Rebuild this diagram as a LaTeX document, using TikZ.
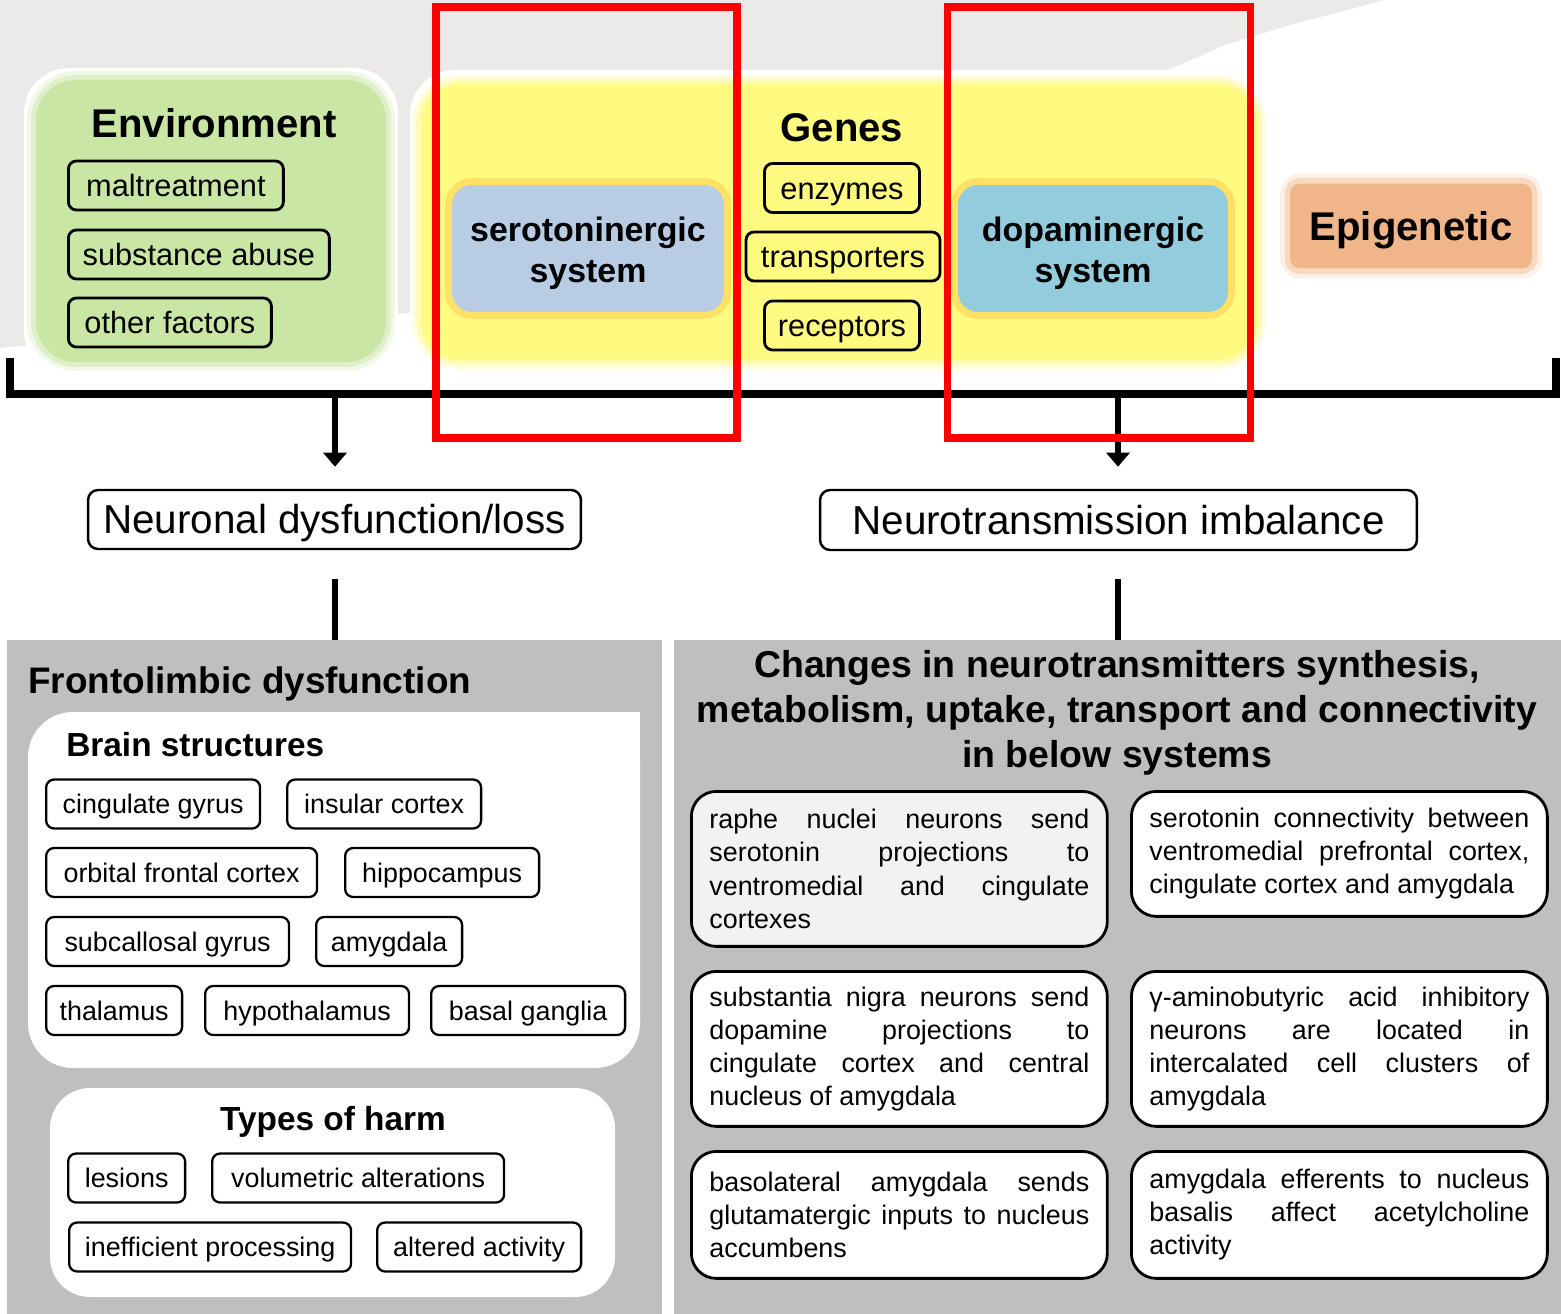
\documentclass[tikz,border=0pt]{standalone}
\usepackage{fontspec}
\setmainfont{Liberation Sans}
\usetikzlibrary{arrows.meta,positioning}

\definecolor{bggrey}{RGB}{235,234,232}
\definecolor{envgreen}{RGB}{201,230,165}
\definecolor{geneyellow}{RGB}{255,250,128}
\definecolor{serblue}{RGB}{184,204,228}
\definecolor{dopblue}{RGB}{147,205,221}
\definecolor{halo}{RGB}{255,205,80}
\definecolor{epiorange}{RGB}{240,182,137}
\definecolor{panelgrey}{RGB}{191,191,191}
\definecolor{paleboxgrey}{RGB}{242,242,242}
\definecolor{markred}{RGB}{255,0,0}

\newcommand{\fsz}[2]{\fontsize{#1}{#2}\selectfont}
\tolerance=10000
\hbadness=10000

\tikzset{
	title/.style={font=\bfseries\fsz{22.8}{27}, text height=18.5pt, text depth=2.1pt},
	sub/.style={font=\bfseries\fsz{19}{23}, text height=15.6pt, text depth=2pt},
	tag/.style={draw, line width=1.6pt, rounded corners=0.16cm, minimum height=0.98cm, inner sep=0pt, text height=15.8pt, text depth=3.2pt, font=\fsz{17.5}{21}},
	brain/.style={draw, line width=1.3pt, rounded corners=0.16cm, fill=white, minimum height=0.98cm, inner sep=0pt, text height=13.5pt, text depth=2.5pt, font=\fsz{15.3}{18}, anchor=west},
	sysbox/.style={rounded corners=0.4cm, minimum width=5.44cm, minimum height=2.54cm, preaction={draw=halo, line width=0.28cm, draw opacity=0.55}},
	systext/.style={align=center, font=\bfseries\fsz{19.3}{23.3}},
	stage/.style={draw, line width=1.4pt, rounded corners=0.2cm, fill=white, text height=19pt, text depth=2.6pt, font=\fsz{23}{27}},
	panel/.style={fill=panelgrey, inner sep=0pt, anchor=north west},
	note/.style={draw, line width=1.6pt, rounded corners=0.5cm, fill=white, text width=7.6cm, inner xsep=0.36cm, align=justify, anchor=north west, font=\fsz{15.3}{18.8}},
	arr/.style={line width=3.6pt, -{Triangle[width=13pt,length=8pt]}},
	link/.style={line width=3.8pt},
	bracket/.style={line width=5pt},
	redframe/.style={draw=markred, line width=4pt}
}

\begin{document}
\begin{tikzpicture}[x=0.02cm, y=-0.02cm]
	\useasboundingbox (0,0) rectangle (1561,1314);

	% grey backdrop of the upper row
	\fill[bggrey] (0,0) -- (1385,0) -- (1290,25) -- (1225,45) -- (1150,78) -- (1150,300) -- (420,312) -- (30,345) -- (0,348) -- cycle;
	\fill[white, rounded corners=0.9cm] (24,68) rectangle (398,376);
	\fill[white, rounded corners=0.9cm] (410,70) rectangle (1272,376);

	% environment
	\fill[envgreen, rounded corners=0.8cm, preaction={draw=envgreen, line width=0.36cm, draw opacity=0.25}, preaction={draw=envgreen, line width=0.2cm, draw opacity=0.45}] (36,80) rectangle (386,362);
	\node[title] (envtitle) at (214,123) {Environment};
	\node[tag, fill=envgreen, minimum width=4.30cm, anchor=west] (maltreat) at (67,185.5) {maltreatment};
	\node[tag, fill=envgreen, minimum width=5.22cm, anchor=west] (abuse) at (67,254.5) {substance abuse};
	\node[tag, fill=envgreen, minimum width=4.06cm, anchor=west] (otherf) at (67,322.5) {other factors};

	% genes
	\fill[geneyellow, rounded corners=0.8cm, preaction={draw=geneyellow, line width=0.36cm, draw opacity=0.25}, preaction={draw=geneyellow, line width=0.2cm, draw opacity=0.45}] (421,84) rectangle (1257,360);
	\node[title] (genestitle) at (842,127) {Genes};
	\node[tag, fill=geneyellow, minimum width=3.1cm] (enzymes) at (842,188) {enzymes};
	\node[tag, fill=geneyellow, minimum width=3.88cm] (transp) at (843,256.5) {transporters};
	\node[tag, fill=geneyellow, minimum width=3.1cm] (recept) at (842,325.5) {receptors};
	\node[sysbox, fill=serblue] (sero) at (588,248.5) {};
	\node[systext] (serotext) at ([yshift=-0.1cm]sero) {serotoninergic\\system};
	\node[sysbox, fill=dopblue, minimum width=5.4cm] (dopa) at (1093,248.5) {};
	\node[systext] (dopatext) at ([yshift=-0.1cm]dopa) {dopaminergic\\system};

	% epigenetic
	\node[title, fill=epiorange, rounded corners=0.2cm, minimum width=4.84cm, minimum height=1.7cm, preaction={draw=epiorange, line width=0.4cm, draw opacity=0.2}, preaction={draw=epiorange, line width=0.22cm, draw opacity=0.4}] (epigen) at (1411,226) {Epigenetic};

	% bracket and the two outcomes
	\draw[bracket] (10,358) -- (10,394) -- (1556,394) -- (1556,358);
	\coordinate (splitL) at (335,394);
	\coordinate (splitR) at (1118,394);
	\node[stage, minimum width=9.86cm, minimum height=1.18cm] (neuronal) at (334.5,519.5) {Neuronal dysfunction/loss};
	\node[stage, minimum width=11.94cm, minimum height=1.2cm] (imbalance) at (1118.5,520) {Neurotransmission imbalance};
	\draw[arr, shorten >=0.44cm] (splitL) -- (splitL |- neuronal.north);
	\draw[arr, shorten >=0.44cm] (splitR) -- (splitR |- imbalance.north);

	% lower panels
	\node[panel, minimum width=13.1cm, minimum height=13.48cm] (frontpanel) at (7,640) {};
	\node[panel, minimum width=17.74cm, minimum height=13.48cm] (chgpanel) at (674,640) {};
	\draw[link, shorten <=0.58cm] (splitL |- neuronal.south) -- (splitL |- frontpanel.north);
	\draw[link, shorten <=0.56cm] (splitR |- imbalance.south) -- (splitR |- chgpanel.north);

	% frontolimbic dysfunction
	\node[anchor=west, inner xsep=0pt, font=\bfseries\fsz{21}{25}, text height=17pt, text depth=2pt] (fronthead) at (28,680) {Frontolimbic dysfunction};
	\fill[white, rounded corners=0.9cm] (28,712) rectangle (640,1068);
	\fill[white] (560,712) rectangle (640,780);
	\node[sub, anchor=west, inner xsep=0pt] (brainhead) at (66,745) {Brain structures};
	\node[brain, minimum width=4.28cm] (cingg) at (45,804) {cingulate gyrus};
	\node[brain, minimum width=3.88cm] (insula) at (286,804) {insular cortex};
	\node[brain, minimum width=5.42cm] (orbit) at (45,872.5) {orbital frontal cortex};
	\node[brain, minimum width=3.88cm] (hippo) at (344,872.5) {hippocampus};
	\node[brain, minimum width=4.86cm] (subcal) at (45,941.5) {subcallosal gyrus};
	\node[brain, minimum width=2.92cm] (amyg) at (315,941.5) {amygdala};
	\node[brain, minimum width=2.72cm] (thal) at (45,1010.5) {thalamus};
	\node[brain, minimum width=4.08cm] (hypoth) at (204,1010.5) {hypothalamus};
	\node[brain, minimum width=3.88cm] (basalg) at (430,1010.5) {basal ganglia};

	\fill[white, rounded corners=0.8cm] (50,1088) rectangle (615,1297);
	\node[sub] (harmhead) at (333,1119) {Types of harm};
	\node[brain, minimum width=2.34cm] (lesion) at (67,1178) {lesions};
	\node[brain, minimum width=5.84cm] (volum) at (211,1178) {volumetric alterations};
	\node[brain, minimum width=5.64cm] (ineff) at (68,1247) {inefficient processing};
	\node[brain, minimum width=4.08cm] (alter) at (376,1247) {altered activity};

	% neurotransmitter changes
	\node[align=center, font=\bfseries\fsz{21.3}{25.6}] (chghead) at (1117,713) {Changes in neurotransmitters synthesis,\\metabolism, uptake, transport and connectivity\\in below systems};
	\node[note, fill=paleboxgrey, minimum height=3.1cm] (raphe) at (690,790) {raphe nuclei neurons send\linebreak serotonin projections to\linebreak ventromedial and cingulate\linebreak cortexes};
	\node[note, minimum height=2.5cm] (seroconn) at (1130,790) {serotonin connectivity between\linebreak ventromedial prefrontal cortex,\linebreak cingulate cortex and amygdala};
	\node[note, minimum height=3.1cm] (nigra) at (690,970) {substantia nigra neurons send\linebreak dopamine projections to\linebreak cingulate cortex and central\linebreak nucleus of amygdala};
	\node[note, minimum height=3.1cm] (gaba) at (1130,970) {γ-aminobutyric acid inhibitory\linebreak neurons are located in\linebreak intercalated cell clusters of\linebreak amygdala};
	\node[note, minimum height=2.54cm] (basolat) at (690,1150) {basolateral amygdala sends\linebreak glutamatergic inputs to nucleus\linebreak accumbens};
	\node[note, minimum height=2.54cm] (efferent) at (1130,1150) {amygdala efferents to nucleus\linebreak basalis affect acetylcholine\linebreak activity};

	% highlighted gene systems
	\draw[redframe] (436,7) rectangle (737,438);
	\draw[redframe] (947,7) rectangle (1250,438);
\end{tikzpicture}
\end{document}
